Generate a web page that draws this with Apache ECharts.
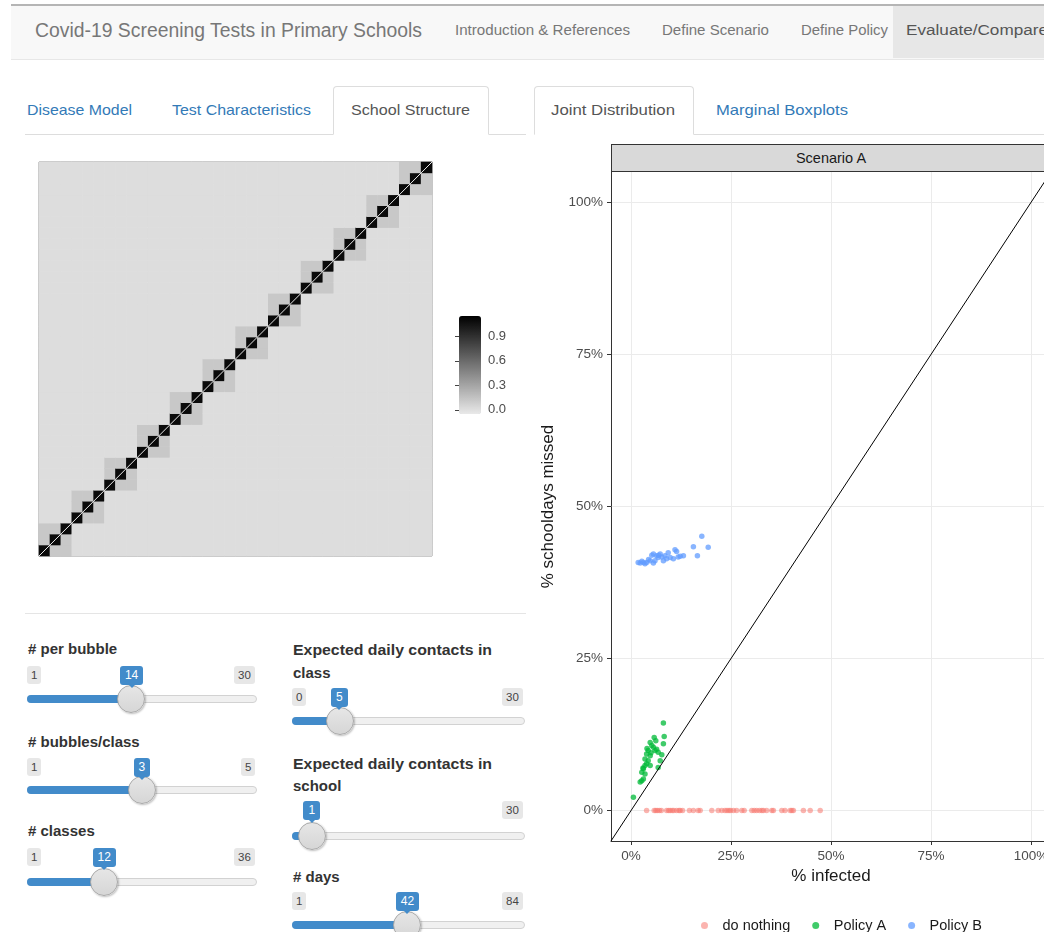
<!DOCTYPE html>
<html>
<head>
<meta charset="utf-8">
<title>Covid-19 Screening Tests in Primary Schools</title>
<script src="https://cdn.jsdelivr.net/npm/echarts@6/dist/echarts.min.js"></script>
<style>
  html, body { margin: 0; padding: 0; width: 1044px; height: 932px; overflow: hidden; background: #fff;
    font-family: "Liberation Sans", Arial, Helvetica, sans-serif; }
  #ui, #chart { position: absolute; left: 0; top: 0; width: 1044px; height: 932px; }
  #chart { z-index: 2; }
  .abs { position: absolute; white-space: nowrap; }
  .fit { display: inline-block; transform-origin: left center; }
  .navbar { position: absolute; left: 11px; top: 4px; width: 1040px; height: 53px; background: #f8f8f8;
    border-top: 2px solid #b5b5b5; border-bottom: 1px solid #e7e7e7; }
  .nav-active { position: absolute; left: 893px; top: 6px; width: 151px; height: 52px; background: #e7e7e7; }
  .tabline { position: absolute; top: 134px; height: 1px; background: #ddd; }
  .tab-active { position: absolute; top: 86px; background: #fff; border: 1px solid #ddd;
    border-bottom: 1px solid #fff; border-radius: 4px 4px 0 0; box-sizing: border-box; height: 49px; }
  .tabtxt { font-size: 15px; color: #337ab7; line-height: 18px; }
  .tabtxt.on { color: #555; }
  .strip { position: absolute; left: 611px; top: 144px; width: 440px; height: 28px; background: #d9d9d9;
    border: 1px solid #333; box-sizing: border-box; text-align: center; font-size: 14.5px; line-height: 26px; color: #1a1a1a; }
  .hr { position: absolute; left: 25px; top: 613px; width: 501px; height: 1px; background: #e5e5e5; }
  .slabel { font-size: 15px; font-weight: bold; color: #333; line-height: 18px; }
  .minmax { font-size: 11.5px; color: #444; background: #e7e7e7; border-radius: 3px; padding: 2px 4px; line-height: 14px; }
  .badge { font-size: 12px; color: #fff; background: #428bca; border-radius: 3px; padding: 2px 5px; line-height: 15px; }
  .badge:after { content: ""; position: absolute; left: 50%; bottom: -3px; margin-left: -3px;
    border-left: 3px solid transparent; border-right: 3px solid transparent; border-top: 3px solid #428bca; }
  .track { position: absolute; height: 8px; border-radius: 4px; background: #f0f0f0; border: 1px solid #d2d2d2; box-sizing: border-box; }
  .bar { position: absolute; height: 8px; border-radius: 4px 0 0 4px; background: #428bca; }
  .handle { position: absolute; width: 28px; height: 28px; border-radius: 50%; background: linear-gradient(#e6e6e6, #d6d6d6);
    border: 1px solid #a8a8a8; box-sizing: border-box; box-shadow: 1px 1px 2px rgba(0,0,0,0.25); }
</style>
</head>
<body>
<div id="ui"></div>
<div id="chart"></div>
<script>
// ---------- page text ----------
const appTitle = 'Covid-19 Screening Tests in Primary Schools';
const navLinks = ['Introduction & References', 'Define Scenario', 'Define Policy', 'Evaluate/Compare'];
const leftTabs = ['Disease Model', 'Test Characteristics', 'School Structure'];
const rightTabs = ['Joint Distribution', 'Marginal Boxplots'];
const facetLabel = 'Scenario A';

// ---------- school structure inputs ----------
const sliderNames = ['# per bubble', '# bubbles/class', '# classes',
  'Expected daily contacts in class', 'Expected daily contacts in school', '# days'];
const sliderMin = [1, 1, 1, 0, 0, 1];
const sliderMax = [30, 5, 36, 30, 30, 84];
const sliderValue = [14, 3, 12, 5, 1, 42];

// ---------- contact matrix ----------
const perBubble = 14;
const bubblesPerClass = 3;
const nClasses = 12;
const bubbleLevel = 1.1;   // same bubble
const classLevel = 0.12;   // same class, other bubble
const schoolLevel = 0.01;  // other class
const legendTicks = [0, 0.3, 0.6, 0.9];

// ---------- simulated outcomes (% infected, % schooldays missed) ----------
const seriesNames = ['do nothing', 'Policy A', 'Policy B'];
const seriesColors = ['#F8766D', '#00BA38', '#619CFF'];
const doNothingInfected = [3.9, 5.8, 6.2, 6.6, 7.1, 7.6, 8.9, 9.4, 9.8, 10.3, 10.7, 11.4, 12.0, 12.3, 12.9,
  14.6, 15.6, 16.8, 17.3, 20.2, 21.8, 22.7, 23.5, 24.0, 24.5, 24.9, 25.6, 26.4, 27.7, 28.3, 30.2, 30.8,
  31.4, 32.1, 32.7, 33.1, 33.9, 35.2, 35.6, 37.7, 38.5, 39.8, 40.2, 40.6, 43.1, 44.8, 47.3];
const doNothingMissed = doNothingInfected.map(() => 0);
const policyAInfected = [8.1, 8.3, 5.8, 4.8, 5.2, 5.6, 6.4, 6.0, 6.8, 4.3, 3.9, 4.8, 3.5, 4.3, 3.9, 3.5, 4.8,
  3.1, 2.7, 3.5, 2.7, 2.3, 3.1, 7.3, 6.8, 8.1, 0.6, 5.0, 4.0, 6.2, 3.0, 7.7];
const policyAMissed = [14.4, 12.2, 12.0, 11.2, 10.7, 10.4, 10.1, 9.9, 9.6, 9.9, 9.3, 9.0, 8.5, 8.2, 7.7, 7.4, 7.4,
  6.9, 6.3, 6.0, 4.9, 4.7, 5.2, 8.2, 7.1, 11.0, 2.2, 9.5, 10.2, 11.5, 7.0, 9.2];
const policyBInfected = [17.7, 15.6, 19.3, 16.6, 13.1, 11.0, 11.4, 9.3, 8.5, 7.7, 6.8, 7.3, 6.4, 5.6, 5.2, 4.8,
  3.9, 3.1, 2.3, 1.8, 2.7, 3.5, 5.6, 6.0, 8.1, 8.9, 9.8, 10.6, 11.8, 12.3, 4.4, 6.9];
const policyBMissed = [45.1, 43.4, 43.3, 41.9, 41.9, 42.9, 42.6, 42.4, 41.9, 41.7, 41.6, 42.2, 41.9, 42.2, 42.0, 41.1,
  40.8, 40.8, 40.7, 40.8, 41.0, 40.6, 40.7, 41.1, 41.1, 41.4, 41.6, 41.4, 41.7, 41.8, 41.3, 42.0];
const identityLine = [[-5, -5], [105, 105]];
const pctTicks = [0, 25, 50, 75, 100];

// ---------- page chrome ----------
const ui = document.getElementById('ui');
function put(html) { ui.insertAdjacentHTML('beforeend', html); }
function txt(s, left, cy, cls, w, extra) {
  return `<div class="abs" style="left:${left}px;top:${cy}px;transform:translateY(-50%);${extra || ''}">` +
    `<span class="fit ${cls}" ${w ? `data-w="${w}"` : ''}>${s.replace(/&/g, '&amp;')}</span></div>`;
}
put('<div class="navbar"></div><div class="nav-active"></div>');
put(txt(appTitle, 35, 30, '', 387, 'font-size:20px;color:#777;'));
const navX = [455, 662, 801, 906], navW = [175, 107, 87, 142];
navLinks.forEach((s, i) => put(txt(s, navX[i], 30, '', navW[i], `font-size:14px;color:${i === 3 ? '#555' : '#777'};`)));

put('<div class="tabline" style="left:25px;width:501px"></div><div class="tabline" style="left:534px;width:510px"></div>');
put('<div class="tab-active" style="left:333px;width:156px"></div><div class="tab-active" style="left:534px;width:160px"></div>');
const leftTabX = [27, 172, 351], leftTabW = [105, 139, 119];
leftTabs.forEach((s, i) => put(txt(s, leftTabX[i], 110, 'tabtxt' + (i === 2 ? ' on' : ''), leftTabW[i])));
const rightTabX = [551, 716], rightTabW = [124, 132];
rightTabs.forEach((s, i) => put(txt(s, rightTabX[i], 110, 'tabtxt' + (i === 0 ? ' on' : ''), rightTabW[i])));

put(`<div class="strip">${facetLabel}</div>`);
put('<div class="hr"></div>');

// slider widgets
const sliderLayout = [
  { x: 27, w: 230, lab: [649], badge: 675, track: 699 },
  { x: 27, w: 230, lab: [742], badge: 767, track: 790 },
  { x: 27, w: 230, lab: [831], badge: 857, track: 882 },
  { x: 292, w: 233, lab: [650, 673], badge: 697, track: 721 },
  { x: 292, w: 233, lab: [764, 786], badge: 810, track: 836 },
  { x: 292, w: 233, lab: [877], badge: 901, track: 925 }
];
sliderNames.forEach((name, i) => {
  const L = sliderLayout[i];
  const words = name.split(' ');
  const lines = L.lab.length === 2 ? [words.slice(0, 4).join(' '), words.slice(4).join(' ')] : [name];
  lines.forEach((s, k) => put(txt(s, L.x + 1, L.lab[k], 'slabel', k === 0 && L.lab.length === 2 ? 199 : 0)));
  const frac = (sliderValue[i] - sliderMin[i]) / (sliderMax[i] - sliderMin[i]);
  const hx = L.x + 13 + frac * (L.w - 26);
  put(`<div class="track" style="left:${L.x}px;top:${L.track - 4}px;width:${L.w}px"></div>`);
  put(`<div class="bar" style="left:${L.x}px;top:${L.track - 4}px;width:${hx - L.x}px"></div>`);
  put(`<div class="handle" style="left:${hx - 14}px;top:${L.track - 14}px"></div>`);
  const maxEl = document.createElement('div');
  maxEl.className = 'abs minmax';
  maxEl.textContent = sliderMax[i];
  ui.appendChild(maxEl);
  maxEl.style.left = (L.x + L.w - maxEl.offsetWidth - 2) + 'px';
  maxEl.style.top = (L.badge - maxEl.offsetHeight / 2) + 'px';
  const bEl = document.createElement('div');
  bEl.className = 'abs badge';
  bEl.textContent = sliderValue[i];
  ui.appendChild(bEl);
  const bLeft = hx - bEl.offsetWidth / 2;
  bEl.style.left = bLeft + 'px';
  bEl.style.top = (L.badge - bEl.offsetHeight / 2) + 'px';
  const minEl = document.createElement('div');
  minEl.className = 'abs minmax';
  minEl.textContent = sliderMin[i];
  ui.appendChild(minEl);
  minEl.style.left = L.x + 'px';
  minEl.style.top = (L.badge - minEl.offsetHeight / 2) + 'px';
  if (bLeft < L.x + minEl.offsetWidth + 6) minEl.style.display = 'none';
});

document.querySelectorAll('[data-w]').forEach(el => {
  const target = +el.dataset.w;
  const actual = el.getBoundingClientRect().width;
  if (actual > 0) el.style.transform = `scaleX(${target / actual})`;
});

// ---------- contact matrix cells (bubble resolution) ----------
const nBubbles = bubblesPerClass * nClasses;
const bubbleIds = Array.from({ length: nBubbles }, (_, i) => String(i));
const matrixCells = [];
for (let i = 0; i < nBubbles; i++) {
  for (let j = 0; j < nBubbles; j++) {
    const sameClass = Math.floor(i / bubblesPerClass) === Math.floor(j / bubblesPerClass);
    matrixCells.push([i, j, i === j ? bubbleLevel : (sameClass ? classLevel : schoolLevel)]);
  }
}
const selfContactLine = [[0, 0], [nBubbles, nBubbles]];

const zip = (a, b) => a.map((v, i) => [v, b[i]]);
const font = '"Liberation Sans", Arial, Helvetica, sans-serif';
const hidden = { show: false };
const legendMin = -0.05, legendMax = 1.15;

const chart = echarts.init(document.getElementById('chart'), null, { renderer: 'canvas' });
chart.setOption({
  animation: false,
  textStyle: { fontFamily: font },
  grid: [
    { left: 39, top: 162, width: 393, height: 394, show: true, borderColor: '#8c8c8c', borderWidth: 1,
      backgroundColor: 'transparent', outerBoundsMode: 'none' },
    { left: 459, top: 316, width: 22, height: 98, show: false, outerBoundsMode: 'none' },
    { left: 611, top: 172, width: 440, height: 669, show: false, outerBoundsMode: 'none', containLabel: false }
  ],
  xAxis: [
    { type: 'category', gridIndex: 0, data: bubbleIds, show: false, position: 'bottom' },
    { type: 'value', gridIndex: 0, min: 0, max: nBubbles, show: false, position: 'top' },
    { type: 'value', gridIndex: 1, min: 0, max: 1, show: false },
    {
      type: 'value', gridIndex: 2, min: -5, max: 105, position: 'bottom',
      axisLine: { show: true, onZero: false, lineStyle: { color: '#333', width: 1 } },
      axisTick: { show: true, length: 4, customValues: pctTicks, lineStyle: { color: '#333' } },
      axisLabel: { customValues: pctTicks, formatter: v => v + '%', color: '#4d4d4d', fontSize: 13.5, margin: 8,
        hideOverlap: false },
      splitLine: { show: true, lineStyle: { color: '#ebebeb', width: 1 } },
      name: '% infected', nameLocation: 'middle', nameGap: 25,
      nameTextStyle: { fontSize: 17, color: '#1a1a1a' }
    }
  ],
  yAxis: [
    { type: 'category', gridIndex: 0, data: bubbleIds, show: false, position: 'left' },
    { type: 'value', gridIndex: 0, min: 0, max: nBubbles, show: false, position: 'right' },
    {
      type: 'value', gridIndex: 1, min: legendMin, max: legendMax, position: 'right',
      axisLine: hidden, splitLine: hidden,
      axisTick: { show: true, inside: true, length: 4, customValues: legendTicks, lineStyle: { color: '#444' } },
      axisLabel: { customValues: legendTicks, formatter: v => v.toFixed(1), color: '#4d4d4d', fontSize: 13, margin: 7 }
    },
    {
      type: 'value', gridIndex: 1, min: legendMin, max: legendMax, position: 'left',
      axisLine: hidden, splitLine: hidden, axisLabel: hidden,
      axisTick: { show: true, inside: true, length: 4, customValues: legendTicks, lineStyle: { color: '#444' } }
    },
    {
      type: 'value', gridIndex: 2, min: -5, max: 105, position: 'left',
      axisLine: { show: true, onZero: false, lineStyle: { color: '#333', width: 1 } },
      axisTick: { show: true, length: 4, customValues: pctTicks, lineStyle: { color: '#333' } },
      axisLabel: { customValues: pctTicks, formatter: v => v + '%', color: '#4d4d4d', fontSize: 13.5, margin: 8 },
      splitLine: { show: true, lineStyle: { color: '#ebebeb', width: 1 } },
      name: '% schooldays missed', nameLocation: 'middle', nameGap: 54, nameRotate: 90,
      nameTextStyle: { fontSize: 17, color: '#1a1a1a' }
    }
  ],
  visualMap: {
    type: 'continuous', seriesIndex: 0, dimension: 2, min: legendMin, max: legendMax,
    inRange: { color: ['#e9e9e9', '#000000'] },
    left: 459, top: 316, itemWidth: 22, itemHeight: 98, padding: 0,
    calculable: false, hoverLink: false, orient: 'vertical'
  },
  legend: {
    data: seriesNames, icon: 'circle', left: 696, top: 913, itemWidth: 26, itemHeight: 7, itemGap: 22,
    textStyle: { fontSize: 14.5, color: '#1a1a1a' }, selectedMode: false
  },
  series: [
    {
      type: 'heatmap', xAxisIndex: 0, yAxisIndex: 0, data: matrixCells, progressive: 0, silent: true
    },
    {
      type: 'line', xAxisIndex: 1, yAxisIndex: 1, data: selfContactLine, symbol: 'none', silent: true,
      lineStyle: { color: '#ffffff', width: 1, opacity: 0.9 }
    },
    {
      name: seriesNames[0], type: 'scatter', xAxisIndex: 3, yAxisIndex: 4, symbolSize: 5.5,
      data: zip(doNothingInfected, doNothingMissed), itemStyle: { color: seriesColors[0], opacity: 0.55 }
    },
    {
      name: seriesNames[1], type: 'scatter', xAxisIndex: 3, yAxisIndex: 4, symbolSize: 5.5,
      data: zip(policyAInfected, policyAMissed), itemStyle: { color: seriesColors[1], opacity: 0.75 }
    },
    {
      name: seriesNames[2], type: 'scatter', xAxisIndex: 3, yAxisIndex: 4, symbolSize: 5.5,
      data: zip(policyBInfected, policyBMissed), itemStyle: { color: seriesColors[2], opacity: 0.75 }
    },
    {
      type: 'line', xAxisIndex: 3, yAxisIndex: 4, data: identityLine, symbol: 'none', silent: true,
      lineStyle: { color: '#000', width: 1 }, z: 3
    }
  ]
});
</script>
</body>
</html>
